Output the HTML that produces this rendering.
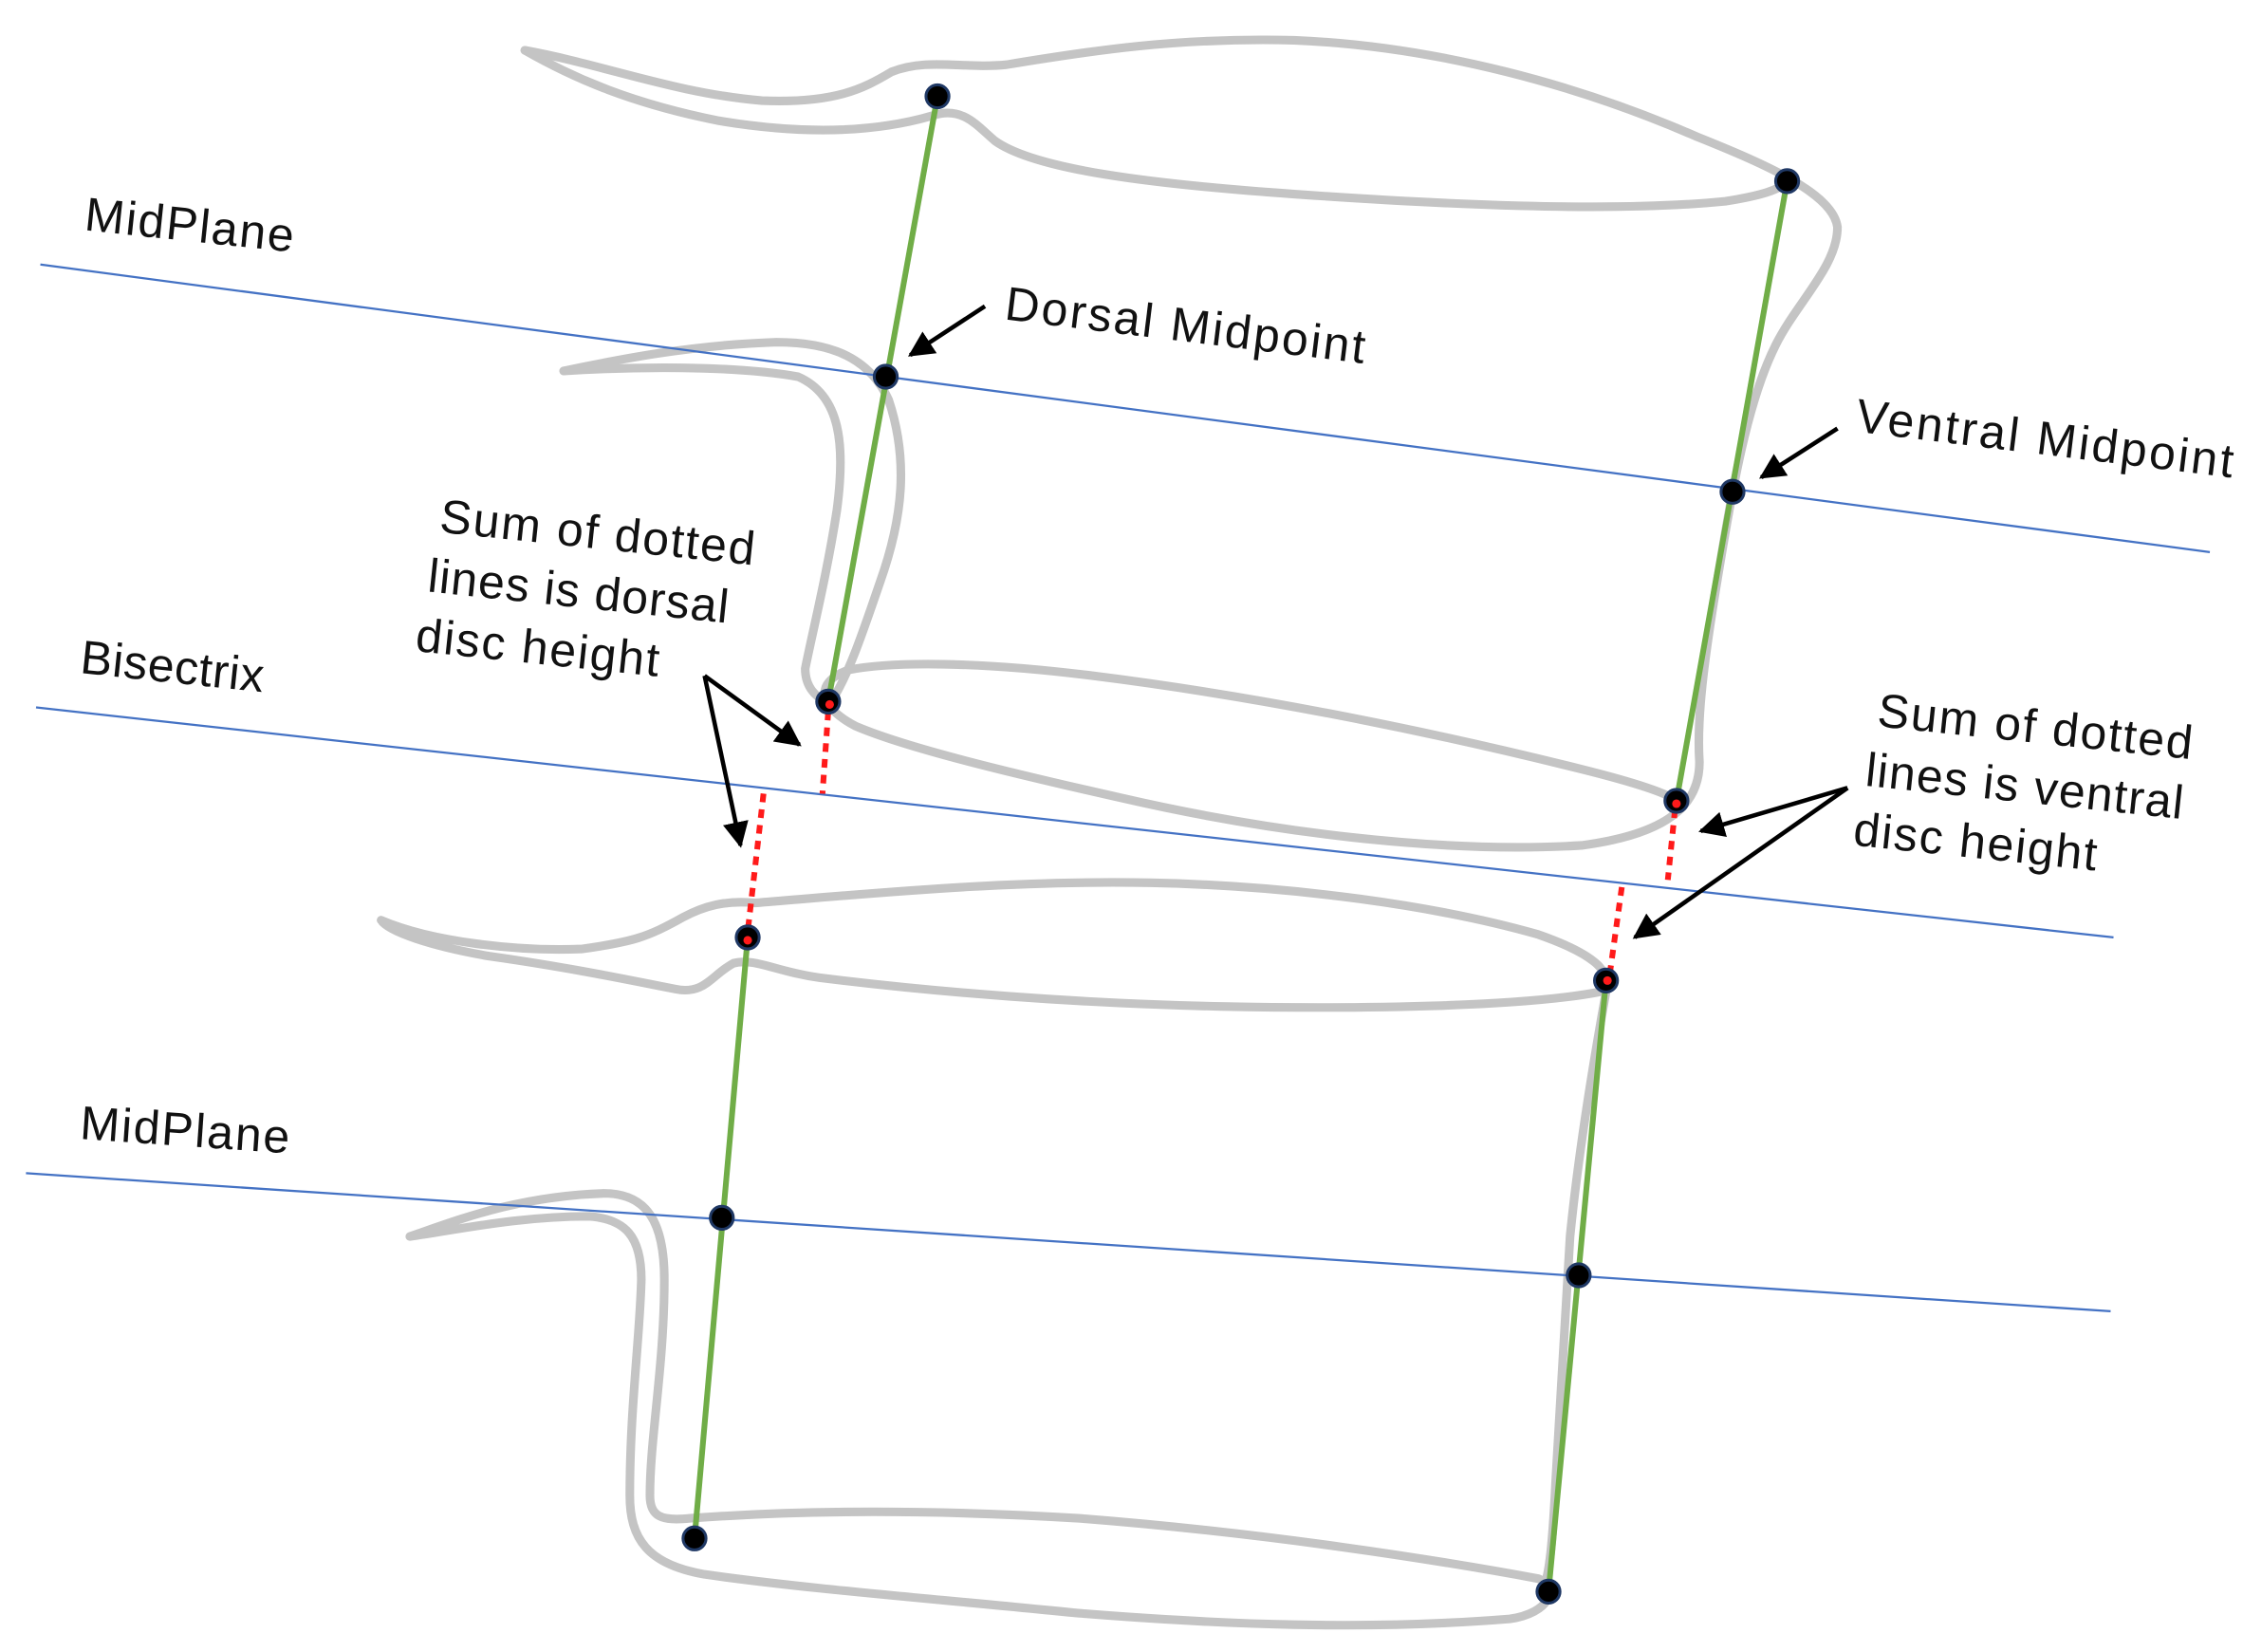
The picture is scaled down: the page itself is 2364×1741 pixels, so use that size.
<!DOCTYPE html>
<html><head><meta charset="utf-8"><style>
html,body{margin:0;padding:0;background:#fff;}
svg{display:block;}
text{font-family:"Liberation Sans",sans-serif;fill:#111;font-size:33px;}
</style></head><body>
<svg width="2364" height="1741" viewBox="0 0 1560 1149" xmlns="http://www.w3.org/2000/svg">
<defs>
<marker id="ah2" viewBox="0 0 10 10" markerWidth="18" markerHeight="18" refX="9" refY="5" orient="auto" markerUnits="userSpaceOnUse">
<path d="M0,0 L10,5 L0,10 z" fill="#000"/>
</marker>
</defs>
<g fill="none" stroke="#c4c4c4" stroke-width="6" stroke-linecap="round" stroke-linejoin="round">
<path d="M365,35 C420,45 470,65 530,70 C580,72 600,62 620,50 C645,40 670,48 700,45 C760,35 820,26 900,28 C1000,32 1100,60 1180,95 C1230,115 1275,135 1278,158 C1278,185 1250,210 1235,240 C1215,280 1205,340 1195,400 C1185,460 1180,500 1182,530 C1182,560 1160,580 1100,588 C1000,594 880,578 780,555 C700,537 630,520 595,505 C570,492 565,475 590,466 C620,460 680,460 760,470 C880,485 1000,510 1100,535 C1140,545 1160,552 1166,557"/>
<path d="M365,35 C400,55 440,72 500,84 C560,94 610,92 650,80 C670,74 680,88 692,98 C720,118 800,128 900,135 C1000,142 1120,148 1200,140 C1225,136 1238,132 1243,126"/>
<path d="M392,258 C430,250 480,240 540,238 C580,238 605,250 618,278 C632,320 628,360 612,405 C600,440 590,470 578,488"/>
<path d="M392,258 C440,255 510,254 555,262 C585,275 588,310 582,355 C575,400 565,440 560,465 C560,478 568,486 576,488"/>
<path d="M265,640 C300,655 360,662 405,660 C440,655 450,652 475,638 C490,630 505,626 525,628 C600,622 700,612 800,614 C900,616 1000,630 1070,650 C1110,664 1125,678 1112,690 C1060,700 950,702 850,700 C750,698 650,690 570,680 C540,676 525,666 510,670 C495,678 490,692 470,688 C430,680 390,672 340,665 C300,658 270,648 265,640"/>
<path d="M285,860 C320,848 360,832 420,830 C450,830 462,850 462,890 C462,950 452,1000 452,1040 C452,1055 460,1058 480,1056 C560,1050 650,1050 750,1056 C880,1066 1000,1085 1070,1098 C1085,1104 1078,1122 1050,1126 C950,1134 850,1130 750,1122 C650,1112 560,1105 490,1095 C450,1088 438,1070 438,1040 C438,980 445,930 446,890 C446,860 435,848 410,846 C360,846 320,855 285,860"/>
<path d="M1117,690 C1108,740 1098,800 1092,860 C1088,920 1085,980 1082,1030 C1080,1070 1078,1090 1075,1100"/>
</g>
<g stroke="#4472c4" stroke-width="1.5">
<line x1="28" y1="184" x2="1537" y2="384"/>
<line x1="25" y1="492" x2="1470" y2="652"/>
<line x1="18" y1="816" x2="1468" y2="912"/>
</g>
<g stroke="#70ad47" stroke-width="4">
<line x1="652" y1="67" x2="576" y2="488"/>
<line x1="1243" y1="126" x2="1166" y2="557"/>
<line x1="520" y1="652" x2="483" y2="1070"/>
<line x1="1117" y1="682" x2="1077" y2="1107"/>
</g>
<g stroke="#ff1a1a" stroke-width="4" stroke-dasharray="6,5">
<line x1="576" y1="495" x2="572" y2="552"/>
<line x1="531" y1="552" x2="520" y2="648"/>
<line x1="1165" y1="563" x2="1160" y2="612"/>
<line x1="1128" y1="617" x2="1119" y2="682"/>
</g>
<g fill="#000" stroke="#1f3864" stroke-width="2">
<circle cx="652" cy="67" r="8"/>
<circle cx="1243" cy="126" r="8"/>
<circle cx="616" cy="262" r="8"/>
<circle cx="1205" cy="342" r="8"/>
<circle cx="576" cy="488" r="8"/>
<circle cx="1166" cy="557" r="8"/>
<circle cx="520" cy="652" r="8"/>
<circle cx="1117" cy="682" r="8"/>
<circle cx="502" cy="847" r="8"/>
<circle cx="1098" cy="887" r="8"/>
<circle cx="483" cy="1070" r="8"/>
<circle cx="1077" cy="1107" r="8"/>
</g>
<g fill="#ff1a1a"><circle cx="577" cy="490" r="3"/><circle cx="1166" cy="559" r="3"/><circle cx="520" cy="654" r="3"/><circle cx="1118" cy="682" r="3"/></g>
<g stroke="#000" stroke-width="3" fill="none" marker-end="url(#ah2)">
<line x1="685" y1="213" x2="633" y2="247"/>
<line x1="1278" y1="298" x2="1225" y2="332"/>
<line x1="490" y1="470" x2="556" y2="518"/>
<line x1="490" y1="470" x2="515" y2="588"/>
<line x1="1285" y1="548" x2="1183" y2="578"/>
<line x1="1285" y1="548" x2="1137" y2="652"/>
</g>
<text transform="translate(58,160) rotate(6)" textLength="146">MidPlane</text>
<text transform="translate(55,468) rotate(6)" textLength="128">Bisectrix</text>
<text transform="translate(55,792) rotate(4)" textLength="146">MidPlane</text>
<text transform="translate(698,222) rotate(7)" textLength="252">Dorsal Midpoint</text>
<text transform="translate(1290,300) rotate(7)" textLength="264">Ventral Midpoint</text>
<g transform="translate(305,370) rotate(6)">
<text x="0" y="0" textLength="220">Sum of dotted</text>
<text x="-4" y="42" textLength="210">lines is dorsal</text>
<text x="-8" y="84" textLength="170">disc height</text>
</g>
<g transform="translate(1305,505) rotate(6)">
<text x="0" y="0" textLength="220">Sum of dotted</text>
<text x="-4" y="42" textLength="222">lines is ventral</text>
<text x="-8" y="84" textLength="170">disc height</text>
</g>
</svg>
</body></html>
